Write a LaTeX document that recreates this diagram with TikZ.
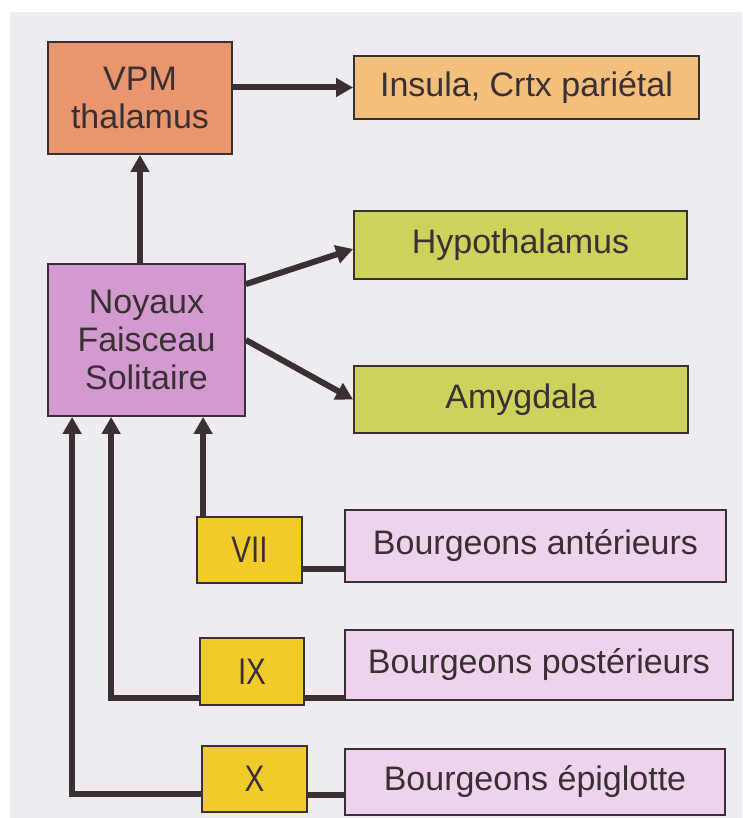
\documentclass[tikz,border=0pt]{standalone}
\usepackage{fontspec}
\setmainfont{Liberation Sans}
\newfontfamily\nervefont{Liberation Sans}[FakeStretch=0.8]
\usepackage{xcolor}
\usepackage{tikz}
\usetikzlibrary{arrows.meta, positioning, calc}
\definecolor{inkgray}{RGB}{58,48,52}
\definecolor{pagebg}{RGB}{238,236,241}
\definecolor{vpmorange}{RGB}{233,149,110}
\definecolor{insorange}{RGB}{243,191,124}
\definecolor{limegreen}{RGB}{203,211,92}
\definecolor{nucmauve}{RGB}{211,154,208}
\definecolor{nerveyellow}{RGB}{239,204,42}
\definecolor{budpink}{RGB}{239,210,236}

\begin{document}
\begin{tikzpicture}[x=1pt, y=-1pt,
  box/.style={draw=inkgray, line width=1.8pt, align=center, inner sep=0pt,
              text=inkgray, font=\fontsize{34}{38}\selectfont},
  nerve/.style={box, fill=nerveyellow, font=\nervefont\fontsize{37}{40}\selectfont},
  arr/.style={-{Triangle[length=17pt,width=18pt]}, line width=6pt, inkgray},
  link/.style={line width=6pt, inkgray}
]
% page
\fill[white] (0,0) rectangle (742,818);
\fill[pagebg] (10,12) rectangle (742,818);
\useasboundingbox (0,0) rectangle (742,818);

% relays
\node[box, fill=vpmorange, minimum width=184pt, minimum height=112pt] (vpm) at (140,98) {VPM\\thalamus};
\node[box, fill=nucmauve, minimum width=197pt, minimum height=152pt] (nts) at (146.5,340) {Noyaux\\Faisceau\\Solitaire};

% targets
\node[box, fill=insorange, minimum width=345pt, minimum height=63pt] (insula) at (526.5,87.5) {Insula, Crtx pariétal};
\node[box, fill=limegreen, minimum width=333pt, minimum height=68pt] (hypo) at (520.5,245) {Hypothalamus};
\node[box, fill=limegreen, minimum width=334pt, minimum height=67pt] (amyg) at (521,399.5) {Amygdala};

% nerves
\node[nerve, minimum width=105pt, minimum height=66pt] (vii) at (249.5,550) {VII};
\node[nerve, minimum width=104pt, minimum height=67pt] (ix) at (252,671.5) {IX};
\node[nerve, minimum width=105pt, minimum height=66pt] (x) at (254.5,779) {X};

% taste buds
\node[box, fill=budpink, minimum width=381pt, minimum height=72pt] (ant) at (535.5,546) {Bourgeons antérieurs};
\node[box, fill=budpink, minimum width=388pt, minimum height=70pt] (post) at (539,665) {Bourgeons postérieurs};
\node[box, fill=budpink, minimum width=380pt, minimum height=66pt] (epi) at (535,782) {Bourgeons épiglotte};

% buds -> nerves
\coordinate (antin) at ([yshift=14pt]ant.south west);
\coordinate (postin) at ([yshift=3pt]post.south west);
\coordinate (epiin) at ([yshift=21pt]epi.south west);
\draw[link] (antin) -- (antin -| vii.east);
\draw[link] (postin) -- (postin -| ix.east);
\draw[link] (epiin) -- (epiin -| x.east);

% nerves -> NTS
\coordinate (viiup) at ([xshift=7pt]vii.north west);
\coordinate (ixin) at ([yshift=8pt]ix.south west);
\coordinate (xin) at ([yshift=19pt]x.south west);
\draw[arr] (viiup) -- (viiup |- nts.south);
\draw[arr] (ixin) -| ([xshift=64pt]nts.south west);
\draw[arr] (xin) -| ([xshift=25pt]nts.south west);

% NTS -> up
\draw[arr] (vpm.south |- nts.north) -- (vpm.south);
\draw[arr] ([yshift=-21pt]nts.north east) -- ([yshift=-4pt]hypo.west);
\draw[arr] (nts.east) -- (amyg.west);
\draw[arr] (vpm.east |- insula.west) -- (insula.west);
\end{tikzpicture}
\end{document}
